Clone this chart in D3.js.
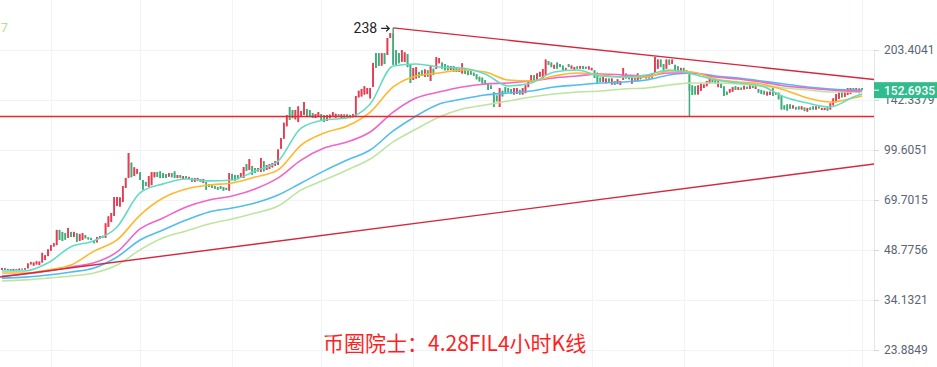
<!DOCTYPE html>
<html>
<head>
<meta charset="utf-8">
<script src="https://cdn.jsdelivr.net/npm/d3@7"></script>
<style>
  html, body { margin: 0; padding: 0; background: #fff; }
  svg { display: block; font-family: Roboto, "Noto Sans", sans-serif; }
</style>
</head>
<body>
<svg id="chart" width="937" height="367"></svg>
<script>
// 4h candles, [open, close] or [open, close, high, low]
const candles = [
  // early march, flat then first leg up
  [42.3, 42.9], [42.9, 42.3], [42.3, 42.6], [42.6, 42.0], [42.0, 42.6], [42.6, 42.2], [42.2, 42.7], [42.7, 42.4],
  [42.4, 42.8], [42.8, 44.3], [44.0, 44.8], [43.6, 44.6], [44.0, 45.0], [43.8, 44.9], [44.6, 47.8], [45.4, 47.0],
  [46.7, 49.0], [48.5, 50.5], [50.0, 51.2], [50.5, 56.3], [56.3, 52.4], [55.5, 52.0], [55.0, 52.5], [53.2, 57.1],
  [55.5, 53.5], [53.5, 55.5], [55.0, 51.7], [52.0, 54.7], [52.4, 55.0], [54.3, 53.0], [53.4, 52.6], [53.2, 52.4],
  [52.4, 51.2], [51.5, 53.5], [52.8, 53.9], [54.0, 53.2], [53.2, 59.0], [57.5, 62.0], [59.6, 63.5], [62.2, 71.2],
  [66.8, 71.2], [66.5, 71.0], [68.7, 77.0], [76.0, 81.6], [81.6, 97.5], [91.0, 82.0], [82.7, 88.0], [84.0, 87.0],
  [85.0, 80.4], [80.4, 75.0], [79.3, 77.0], [76.5, 82.7], [77.5, 85.0], [82.0, 85.1], [85.1, 82.2], [85.5, 81.5],
  [84.5, 81.6], [83.9, 81.6], [82.3, 84.5], [84.5, 82.0], [85.5, 81.6], [81.6, 83.3], [83.3, 81.6], [81.0, 82.7],
  [82.7, 81.0], [81.0, 82.2], [81.6, 79.3], [79.3, 81.6], [79.8, 81.6], [81.0, 79.3], [78.7, 81.0], [79.3, 75.0],
  [78.0, 76.5], [77.5, 76.0], [77.0, 75.5], [76.5, 75.0],
  // second leg up to the 238 top
  [77.0, 75.5], [76.5, 74.5], [76.0, 74.9], [74.5, 84.5], [84.0, 80.4], [83.3, 80.0], [83.3, 80.8], [82.2, 84.5],
  [81.6, 88.2], [90.1, 85.8], [86.4, 93.4], [88.9, 83.3], [87.6, 84.5], [85.5, 87.6], [85.1, 94.1], [92.0, 85.5],
  [86.4, 89.5], [87.0, 90.0], [88.0, 90.8], [89.0, 92.0], [89.5, 100.0], [100.5, 108.5], [108.0, 121.0], [118.0, 127.8],
  [135.4, 123.4], [132.5, 125.0], [124.0, 132.5], [121.6, 136.0], [127.0, 131.5], [128.0, 140.3], [133.5, 126.0], [132.5, 126.0],
  [129.7, 125.2], [125.2, 128.8], [126.0, 130.6], [128.8, 122.5], [127.8, 121.6], [122.5, 127.9], [125.0, 128.2], [126.5, 130.6],
  [125.5, 129.0], [128.5, 126.0], [125.2, 128.5], [128.5, 125.2], [125.8, 128.3], [128.0, 125.0], [125.8, 128.8], [126.0, 146.5],
  [145.0, 152.0], [146.0, 154.0], [148.0, 157.0], [148.5, 155.0], [144.0, 155.0], [156.2, 185.4], [199.0, 178.9], [199.0, 181.5],
  [182.0, 199.0], [199.0, 184.0], [196.3, 221.6], [221.6, 229.6], [229.0, 183.0, 238.2, 183.0], [203.4, 183.0], [199.0, 185.0], [187.0, 203.4],
  [186.7, 200.0], [197.7, 180.0], [184.1, 160.7],
  // april range
  [164.2, 178.9], [166.0, 180.0], [174.0, 167.0], [176.0, 169.0], [168.0, 177.0], [176.0, 168.0], [163.0, 181.5], [178.0, 170.0],
  [177.6, 193.5], [185.0, 192.0], [186.0, 178.0], [184.0, 176.0], [182.0, 176.0], [176.3, 181.5], [181.5, 174.0], [179.0, 173.8],
  [174.0, 178.0], [172.0, 185.0], [178.0, 171.4], [176.3, 170.0], [175.0, 170.5], [173.0, 169.0], [171.0, 165.0], [168.0, 162.5],
  [167.0, 160.0], [164.0, 159.0], [160.0, 153.0], [158.0, 154.0], [150.7, 135.4], [147.0, 141.0], [135.4, 155.1], [152.0, 146.0],
  [156.0, 150.0], [155.0, 150.5], [154.0, 149.0], [148.0, 155.0], [148.6, 155.1], [153.0, 148.0], [148.0, 155.0], [149.5, 158.0],
  [156.0, 163.0], [162.0, 170.0], [170.0, 163.0], [164.0, 172.0], [168.0, 174.0], [166.0, 177.6], [170.0, 190.0], [188.0, 183.0],
  [186.0, 180.0], [178.0, 183.0], [186.0, 178.0], [184.0, 180.0], [182.0, 176.0], [176.5, 179.0], [184.0, 180.0], [178.0, 182.0],
  [176.5, 180.0], [181.0, 178.0], [178.0, 181.5], [181.5, 177.5], [180.5, 178.0], [177.0, 181.0], [176.0, 179.0], [176.0, 166.6],
  [173.0, 161.0], [167.0, 162.0], [162.0, 168.0], [160.5, 166.0], [166.0, 162.0], [159.0, 166.0], [163.0, 158.5], [159.5, 165.0],
  [158.5, 163.0], [164.2, 178.9], [172.0, 166.0], [170.0, 165.0], [160.0, 167.0], [167.0, 163.0], [163.0, 172.0], [170.0, 165.0],
  [167.0, 170.0], [166.0, 170.0], [170.0, 166.0], [167.0, 172.0],
  // late april
  [172.6, 193.5], [178.0, 190.0], [190.0, 180.0], [184.0, 174.0], [178.0, 190.0], [190.0, 183.0], [184.0, 190.0], [183.0, 176.0],
  [181.0, 175.0], [175.0, 179.0], [179.0, 174.0], [176.0, 172.0], [172.0, 152.0, 173.0, 127.0], [158.0, 147.5], [157.0, 148.0], [148.0, 158.0],
  [152.0, 160.0], [155.0, 159.0], [157.0, 163.0], [160.0, 166.0], [166.0, 161.0], [165.0, 160.0], [156.0, 165.0], [160.0, 155.0],
  [157.0, 146.5], [151.0, 147.5], [150.0, 154.0], [151.0, 156.0], [157.0, 153.0], [153.0, 156.0], [155.5, 153.0], [153.5, 157.5],
  [156.5, 154.0], [154.0, 158.5], [158.0, 155.0], [154.0, 157.0], [154.0, 150.0], [153.0, 148.5], [152.0, 148.0], [147.0, 151.0],
  [147.5, 151.0], [155.0, 146.5], [148.0, 150.5], [150.0, 143.0], [147.5, 133.0], [137.0, 133.0], [138.0, 132.0], [138.0, 133.5],
  [134.0, 137.0], [135.5, 133.0], [136.0, 133.0], [133.0, 136.0], [135.0, 131.5], [131.0, 134.5], [135.0, 132.5], [136.0, 133.0],
  [133.0, 136.0], [136.0, 134.0], [132.5, 134.5], [132.5, 134.5], [135.0, 132.0], [133.0, 139.0], [137.0, 144.0], [140.0, 148.5],
  [143.5, 150.0], [151.0, 145.0], [145.5, 151.0], [147.5, 155.0], [148.5, 155.0], [155.0, 150.5], [150.0, 155.0], [149.5, 154.5],
  [155.0, 152.7]
];

// moving averages, read every 8 candles
const maIndex = [0, 8, 16, 24, 32, 40, 48, 56, 64, 72, 80, 88, 96, 104, 112, 120, 128, 136, 144, 152,
  160, 168, 176, 184, 192, 200, 208, 216, 224, 232, 240, 248, 256, 264, 272, 280, 288, 296, 299];
const ma1 = [42.0, 42.0, 44.5, 49.9, 52.1, 57.5, 73.3, 78.2, 81.0, 79.9, 80.4, 85.8, 92.0, 116.5, 123.4, 125.2, 138.3, 181.5, 184.1, 180.2,
  178.9, 171.4, 157.3, 160.7, 173.8, 176.3, 169.0, 167.8, 170.2, 176.3, 171.4, 164.2, 160.7, 157.3, 145.4, 139.3, 135.4, 145.4, 148.6];
const ma2 = [41.4, 41.4, 42.3, 43.8, 48.4, 52.4, 62.6, 70.7, 75.4, 77.6, 78.7, 82.1, 86.4, 103.2, 112.4, 118.2, 130.6, 156.2, 169.0, 172.6,
  176.3, 173.8, 164.2, 163.0, 169.0, 172.6, 170.2, 167.8, 167.8, 175.0, 173.8, 165.4, 161.9, 159.6, 152.9, 144.4, 140.3, 144.4, 146.5];
const ma3 = [40.5, 41.1, 42.0, 43.2, 44.5, 48.1, 56.7, 61.3, 66.3, 69.7, 71.7, 75.4, 81.6, 92.7, 101.0, 105.5, 113.3, 130.6, 144.4, 150.7,
  156.2, 159.6, 160.7, 163.0, 166.6, 169.0, 171.4, 170.2, 169.0, 172.6, 172.6, 167.8, 165.4, 161.9, 157.3, 155.1, 152.9, 151.8, 151.8];
const ma4 = [39.9, 40.2, 40.8, 41.7, 42.9, 46.4, 52.4, 56.3, 60.4, 64.0, 65.8, 68.2, 72.2, 78.7, 85.8, 92.7, 99.6, 114.1, 127.0, 138.3,
  143.3, 147.5, 149.6, 151.8, 156.2, 158.4, 160.7, 161.9, 164.2, 170.2, 172.6, 169.0, 166.6, 163.0, 159.6, 156.2, 154.0, 152.9, 152.9];
const ma5 = [39.1, 39.4, 39.9, 40.5, 41.4, 43.8, 48.8, 53.2, 55.9, 58.7, 60.9, 63.5, 66.8, 74.9, 80.4, 86.4, 93.4, 105.5, 115.7, 126.1,
  133.5, 137.3, 141.3, 145.4, 148.6, 150.7, 151.8, 154.0, 155.1, 158.4, 160.7, 160.7, 159.6, 157.3, 155.1, 152.9, 150.7, 150.7, 150.7];
const maColors = ["#64dcc4", "#ffb82e", "#f065c8", "#4fbdf0", "#bde5a0"];

const priceTicks = [203.4041, 142.3379, 99.6051, 69.7015, 48.7756, 34.1321, 23.8849];
const timeGrid = [17, 48, 80, 111, 143, 174, 205, 237, 268, 299];
const lastPrice = 152.6935;
const peak = { index: 136, value: 238.2, label: "238" };

// drawn lines: [candle index, price]
const upperTrend = [[136, 238.2], [303.2, 164.8]];
const lowerTrend = [[-0.7, 40.2], [303.2, 90.1]];
const support = 126.5;

const title = "币圈院士：4.28FIL4小时K线";

const W = 937, H = 367, plotW = 874;
const svg = d3.select("#chart");

const x = d3.scaleLinear().domain([0, candles.length - 1]).range([2, 862]);
const y = d3.scaleLog().domain([23.8849, 203.4041]).range([350, 50]);

/* ------------------ grid ------------------ */

const grid = svg.append("g");
grid.selectAll(".hg").data(priceTicks).join("line")
  .attr("x1", 0).attr("x2", plotW)
  .attr("y1", d => Math.round(y(d)) + 0.5).attr("y2", d => Math.round(y(d)) + 0.5)
  .attr("stroke", "#f0f3f7");
grid.selectAll(".vg").data(timeGrid).join("line")
  .attr("x1", d => Math.round(x(d)) + 0.5).attr("x2", d => Math.round(x(d)) + 0.5)
  .attr("y1", 0).attr("y2", H)
  .attr("stroke", "#f0f3f7");

const plot = svg.append("g");
svg.append("clipPath").attr("id", "clip")
  .append("rect").attr("width", plotW).attr("height", H);
plot.attr("clip-path", "url(#clip)");

/* ------------------ candles ------------------ */

const up = "#e63b50", down = "#3fac7b";

const cg = plot.append("g");
candles.forEach((c, i) => {
  const [o, cl] = c;
  const hi = c[2] ?? Math.max(o, cl);
  const lo = c[3] ?? Math.min(o, cl);
  const col = cl >= o ? up : down;
  const cx = x(i);
  // wick
  cg.append("rect")
    .attr("x", cx - 0.75).attr("width", 1.5)
    .attr("y", y(hi)).attr("height", Math.max(1, y(lo) - y(hi)))
    .attr("fill", col);
  // body
  const top = y(Math.max(o, cl)), bot = y(Math.min(o, cl));
  cg.append("rect")
    .attr("x", cx - 0.85).attr("width", 1.7)
    .attr("y", top).attr("height", Math.max(1, bot - top))
    .attr("fill", col);
});

/* ------------------ moving averages ------------------ */

const line = d3.line()
  .x(d => x(d[0]))
  .y(d => y(d[1]))
  .curve(d3.curveMonotoneX);

[ma5, ma4, ma3, ma2, ma1].forEach((ma, k) => {
  plot.append("path")
    .datum(maIndex.map((idx, j) => [idx, ma[j]]))
    .attr("d", line)
    .attr("fill", "none")
    .attr("stroke", maColors[4 - k])
    .attr("stroke-width", 1.6);
});

/* ------------------ trend lines ------------------ */

const seg = d3.line().x(d => x(d[0])).y(d => y(d[1]));

plot.append("line")
  .attr("x1", 0).attr("x2", plotW)
  .attr("y1", y(support)).attr("y2", y(support))
  .attr("stroke", "#f0242c").attr("stroke-width", 1.4);

[upperTrend, lowerTrend].forEach(t => {
  plot.append("path")
    .attr("d", seg(t))
    .attr("fill", "none")
    .attr("stroke", "#d4283f")
    .attr("stroke-width", 1.4);
});

/* ------------------ peak label ------------------ */

const px = x(peak.index), py = y(peak.value);
svg.append("text")
  .attr("x", px - 16).attr("y", py + 5)
  .attr("text-anchor", "end")
  .attr("font-size", 14)
  .attr("fill", "#222")
  .text(peak.label);
svg.append("path")
  .attr("d", `M${px - 12},${py + 0.5}H${px - 4}M${px - 7},${py - 2.5}L${px - 4},${py + 0.5}L${px - 7},${py + 3.5}`)
  .attr("fill", "none")
  .attr("stroke", "#222")
  .attr("stroke-width", 1.3);

// clipped legend remnant top-left
svg.append("text")
  .attr("x", 8).attr("y", 32)
  .attr("text-anchor", "end")
  .attr("font-size", 13)
  .attr("fill", "#b3e08f")
  .text("7");

/* ------------------ price axis ------------------ */

const axis = svg.append("g")
  .attr("transform", `translate(${plotW},0)`)
  .call(d3.axisRight(y)
    .tickValues(priceTicks)
    .tickFormat(d3.format(".4f"))
    .tickSize(5)
    .tickPadding(5));

axis.select(".domain").attr("stroke", "#e3e7ec");
axis.selectAll(".tick line").attr("stroke", "#d3d8de");
axis.selectAll(".tick text")
  .attr("fill", "#5b6474")
  .attr("font-size", 12)
  .attr("font-family", "Roboto, sans-serif");

// last price badge
const ly = y(lastPrice);
svg.append("rect")
  .attr("x", plotW).attr("y", ly - 8)
  .attr("width", W - plotW).attr("height", 16)
  .attr("fill", "#32bb8c");
svg.append("line")
  .attr("x1", plotW).attr("x2", plotW + 5)
  .attr("y1", ly).attr("y2", ly)
  .attr("stroke", "#fff");
svg.append("text")
  .attr("x", plotW + 10).attr("y", ly + 4.5)
  .attr("font-size", 12)
  .attr("font-weight", 500)
  .attr("fill", "#fff")
  .text(lastPrice.toFixed(4));

/* ------------------ title ------------------ */

svg.append("text")
  .attr("x", 323).attr("y", 351)
  .attr("font-family", "'Noto Sans CJK SC', sans-serif")
  .attr("font-size", 21)
  .attr("fill", "#ff1f1f")
  .text(title);
</script>
</body>
</html>
